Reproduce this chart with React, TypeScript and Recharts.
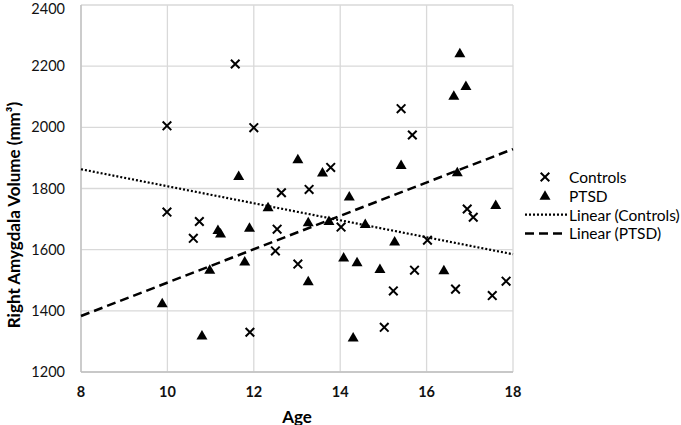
import { CartesianGrid, Legend, Scatter, ScatterChart, XAxis, YAxis } from "recharts";

const FONT = "Lato, 'Liberation Sans', sans-serif";

// values
const controlsAge = [
  11.57, 9.99, 12.0, 12.64, 13.28, 15.41, 15.67, 13.78, 9.99, 10.74, 10.6, 12.54, 12.5,
  13.02, 11.91, 14.02, 16.02, 15.72, 15.23, 15.02, 16.67, 17.52, 17.84, 16.94, 17.08,
];
const controlsVol = [
  2207, 2005, 1999, 1786, 1797, 2061, 1975, 1869, 1723, 1692, 1637, 1667, 1596,
  1553, 1330, 1674, 1631, 1533, 1465, 1346, 1471, 1450, 1497, 1733, 1706,
];
const ptsdAge = [
  11.65, 13.02, 16.77, 16.63, 16.91, 15.41, 16.71, 13.59, 14.21, 9.88, 10.8, 10.98, 11.17, 11.23,
  11.9, 11.79, 12.33, 13.26, 13.26, 13.74, 14.58, 15.26, 14.08, 14.39, 14.92, 16.4, 14.3, 17.6,
];
const ptsdVol = [
  1841, 1896, 2242, 2103, 2135, 1877, 1853, 1852, 1774, 1425, 1319, 1534, 1664, 1653,
  1672, 1561, 1739, 1690, 1497, 1694, 1684, 1627, 1574, 1559, 1537, 1533, 1313, 1746,
];
// trend line end points
const trendAge = [8, 18];
const trendControls = [1863, 1585];
const trendPtsd = [1383, 1929];

const xTicks = [8, 10, 12, 14, 16, 18];
const yTicks = [1200, 1400, 1600, 1800, 2000, 2200, 2400];

const controls = controlsAge.map((age, i) => ({ age, vol: controlsVol[i] }));
const ptsd = ptsdAge.map((age, i) => ({ age, vol: ptsdVol[i] }));
const controlsLine = trendAge.map((age, i) => ({ age, vol: trendControls[i] }));
const ptsdLine = trendAge.map((age, i) => ({ age, vol: trendPtsd[i] }));

function Cross(props: any) {
  const { cx, cy } = props;
  const r = 4.3;
  return (
    <path
      d={`M${cx - r},${cy - r}L${cx + r},${cy + r}M${cx - r},${cy + r}L${cx + r},${cy - r}`}
      stroke="#000"
      strokeWidth={2}
      fill="none"
    />
  );
}

function Triangle(props: any) {
  const { cx, cy } = props;
  return <path d={`M${cx},${cy - 5.5}L${cx + 5.5},${cy + 4}L${cx - 5.5},${cy + 4}Z`} fill="#000" />;
}

const Nothing = () => <g />;

function LegendBox() {
  const rows = ["Controls", "PTSD", "Linear (Controls)", "Linear (PTSD)"];
  return (
    <svg width={157} height={80}>
      {rows.map((name, i) => {
        const y = 11 + i * 18.8;
        return (
          <g key={name}>
            {i === 0 && <Cross cx={21} cy={y} />}
            {i === 1 && <Triangle cx={21} cy={y} />}
            {i === 2 && (
              <line x1={1} x2={43} y1={y} y2={y} stroke="#000" strokeWidth={2.2} strokeDasharray="2 2" />
            )}
            {i === 3 && (
              <line x1={1} x2={43} y1={y} y2={y} stroke="#000" strokeWidth={2.5} strokeDasharray="9 5" />
            )}
            <text x={45} y={y} dominantBaseline="central" fontSize={15.5} fontFamily={FONT} fill="#000">
              {name}
            </text>
          </g>
        );
      })}
    </svg>
  );
}

export default function App() {
  return (
    <div style={{ position: "absolute", left: 0, top: 0, background: "#fff" }}>
      <ScatterChart width={681} height={425} margin={{ top: 5, right: 168, bottom: 23, left: 0 }}>
        <CartesianGrid stroke="#d9d9d9" strokeWidth={1.3} />
        <XAxis
          type="number"
          dataKey="age"
          domain={[8, 18]}
          ticks={xTicks}
          height={30}
          tickLine={false}
          tickMargin={9}
          axisLine={{ stroke: "#bfbfbf", strokeWidth: 1.3 }}
          tick={{ fontSize: 14.5, fontWeight: 700, fontFamily: FONT, fill: "#111" }}
          label={{
            content: () => (
              <text x={297} y={416} textAnchor="middle" dominantBaseline="central" fontSize={17} fontWeight={700} fontFamily={FONT} fill="#000">
                Age
              </text>
            ),
          }}
        />
        <YAxis
          type="number"
          dataKey="vol"
          domain={[1200, 2400]}
          ticks={yTicks}
          width={81}
          tickLine={false}
          tickMargin={10}
          axisLine={{ stroke: "#bfbfbf", strokeWidth: 1.3 }}
          tick={{ fontSize: 14.5, fontFamily: FONT, fill: "#111" }}
          label={{
            content: () => (
              <text
                x={13}
                y={215}
                transform="rotate(-90 13 215)"
                textAnchor="middle"
                dominantBaseline="central"
                fontSize={17}
                fontWeight={700}
                fontFamily={FONT}
                fill="#000"
              >
                Right Amygdala Volume (mm³)
              </text>
            ),
          }}
        />
        <Scatter name="Controls" data={controls} shape={Cross} isAnimationActive={false} />
        <Scatter name="PTSD" data={ptsd} shape={Triangle} isAnimationActive={false} />
        <Scatter
          name="Linear (Controls)"
          data={controlsLine}
          shape={Nothing}
          line={{ stroke: "#000", strokeWidth: 2.2, strokeDasharray: "2 2" }}
          lineType="joint"
          isAnimationActive={false}
        />
        <Scatter
          name="Linear (PTSD)"
          data={ptsdLine}
          shape={Nothing}
          line={{ stroke: "#000", strokeWidth: 2.5, strokeDasharray: "9 5" }}
          lineType="joint"
          isAnimationActive={false}
        />
        <Legend
          layout="vertical"
          align="center"
          verticalAlign="middle"
          content={() => <LegendBox />}
          wrapperStyle={{ left: 524, top: 166, width: 157, height: 80 }}
        />
      </ScatterChart>
    </div>
  );
}
